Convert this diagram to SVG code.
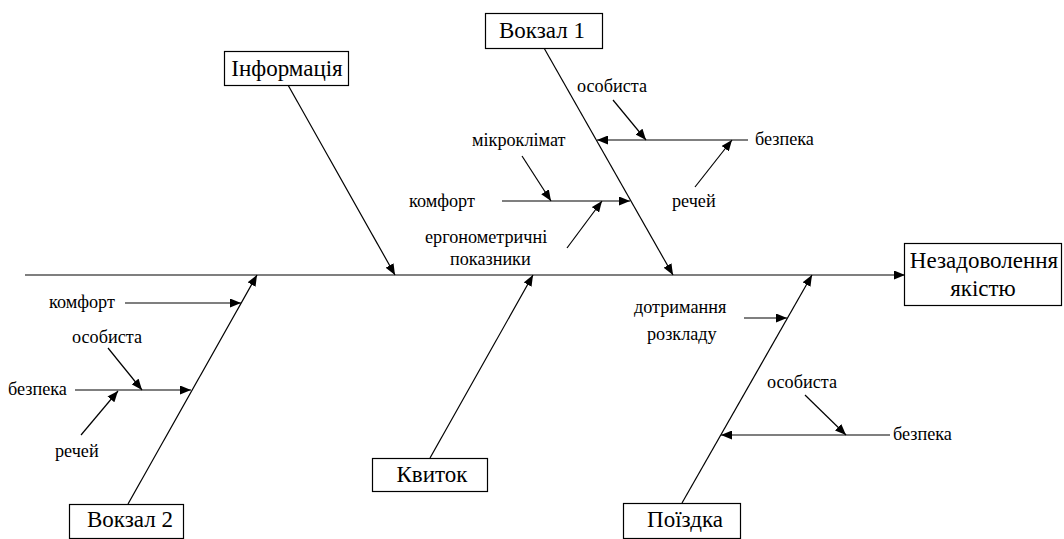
<svg xmlns="http://www.w3.org/2000/svg" width="1064" height="539" viewBox="0 0 1064 539">
<defs>
<marker id="ah" markerUnits="userSpaceOnUse" markerWidth="11" markerHeight="9" refX="11" refY="4.5" orient="auto">
<path d="M0,0 L11,4.5 L0,9 z" fill="#000"/>
</marker>
<style>
.box{fill:#fff;stroke:#000;stroke-width:1.2}
.ar{stroke:#000;stroke-width:1.2;fill:none;marker-end:url(#ah)}
text{font-family:'Liberation Serif','Times New Roman',serif;fill:#000}
.big{font-size:23px;text-anchor:middle}
.lbl{font-size:18.2px}
</style>
</defs>
<rect width="1064" height="539" fill="#fff"/>
<g id="connectors">
<line class="ar" x1="25" y1="275" x2="905" y2="275"/>
<line class="ar" x1="544" y1="48" x2="673" y2="275"/>
<line class="ar" x1="288" y1="85" x2="395" y2="275"/>
<line class="ar" x1="430" y1="458" x2="533" y2="275"/>
<line class="ar" x1="128" y1="504" x2="257" y2="275"/>
<line class="ar" x1="682" y1="503" x2="812" y2="275"/>
<line class="ar" x1="748" y1="140" x2="597" y2="140"/>
<line class="ar" x1="613" y1="100" x2="646" y2="140"/>
<line class="ar" x1="695" y1="187" x2="732" y2="140"/>
<line class="ar" x1="502" y1="201" x2="630" y2="201"/>
<line class="ar" x1="522" y1="156" x2="551" y2="201"/>
<line class="ar" x1="567" y1="248" x2="602" y2="201"/>
<line class="ar" x1="125" y1="303" x2="241" y2="303"/>
<line class="ar" x1="75" y1="390" x2="191" y2="390"/>
<line class="ar" x1="108" y1="348" x2="142" y2="390"/>
<line class="ar" x1="81" y1="435" x2="118" y2="391"/>
<line class="ar" x1="744" y1="318" x2="787" y2="318"/>
<line class="ar" x1="890" y1="435" x2="721" y2="435"/>
<line class="ar" x1="805" y1="395" x2="846" y2="435"/>
</g>
<g id="result">
<rect class="box" x="904.5" y="243.5" width="157" height="62"/>
<text class="big" x="984" y="268">Незадоволення</text>
<text class="big" x="983" y="296">якістю</text>
</g>
<g id="vokzal1">
<rect class="box" x="485.5" y="13.5" width="117" height="35"/>
<text class="big" x="542" y="38">Вокзал 1</text>
</g>
<g id="informatsiia">
<rect class="box" x="224.5" y="51.5" width="124" height="34"/>
<text class="big" x="287" y="76">Інформація</text>
</g>
<g id="kvytok">
<rect class="box" x="372.5" y="458.5" width="115" height="33"/>
<text class="big" x="432" y="482">Квиток</text>
</g>
<g id="vokzal2">
<rect class="box" x="69.5" y="504.5" width="114" height="34"/>
<text class="big" x="130" y="527">Вокзал 2</text>
</g>
<g id="poizdka">
<rect class="box" x="623.5" y="503.5" width="117" height="35"/>
<text class="big" x="685" y="527">Поїздка</text>
</g>
<g id="labels">
<text class="lbl" x="577" y="92">особиста</text>
<text class="lbl" x="755" y="145">безпека</text>
<text class="lbl" x="672" y="207">речей</text>
<text class="lbl" x="472" y="146">мікроклімат</text>
<text class="lbl" x="409" y="207">комфорт</text>
<text class="lbl" x="425" y="243">ергонометричні</text>
<text class="lbl" x="450" y="265">показники</text>
<text class="lbl" x="49" y="308">комфорт</text>
<text class="lbl" x="72" y="343">особиста</text>
<text class="lbl" x="8" y="395">безпека</text>
<text class="lbl" x="55" y="457">речей</text>
<text class="lbl" x="634" y="313">дотримання</text>
<text class="lbl" x="647" y="340">розкладу</text>
<text class="lbl" x="767" y="388">особиста</text>
<text class="lbl" x="893" y="440">безпека</text>
</g>
</svg>
